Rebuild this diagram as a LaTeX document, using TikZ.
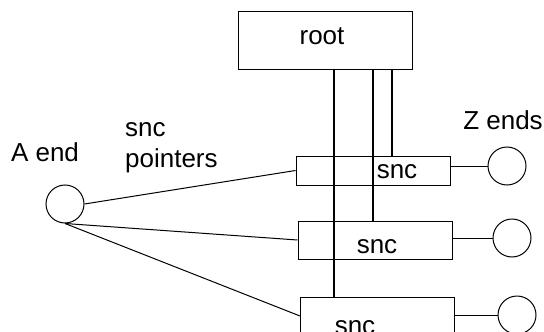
\documentclass[tikz,border=0pt]{standalone}
\usepackage{fontspec}
\setmainfont{Liberation Sans}
\tikzset{
  sncbox/.style={draw,inner sep=0pt,minimum width=77pt},
  endnode/.style={draw,circle,inner sep=0pt,minimum size=19pt},
  ptr/.style={line width=1.1pt},
}

\begin{document}
\begin{tikzpicture}[x=0.5pt,y=-0.5pt,font=\fontsize{13}{15.5}\selectfont,line width=0.5pt]
\useasboundingbox (0,0) rectangle (544,331);
\clip (0,0) rectangle (544,331);
% boxes
\node[draw,inner sep=0pt,minimum width=87pt,minimum height=29pt] (root) at (325,41) {};
\node at (322,36) {root};
\node[sncbox,minimum height=14.5pt] (s1) at (373,170.5) {};
\node[sncbox,minimum height=19pt] (s2) at (375,240) {};
\node[sncbox,minimum height=19pt] (s3) at (377.5,316) {};
\node (t1) at (397,172) {snc};
\node (t2) at (377,247) {snc};
\node (t3) at (355,328) {snc};
% ends
\node[endnode] (a) at (65,204) {};
\node (alabel) at (45,152) {A end};
\node[anchor=west,align=left] (plabel) at (118,148) {snc\\pointers};
\node[endnode] (z1) at (507,166) {};
\node[endnode] (z2) at (512,238) {};
\node[endnode] (z3) at (517,315) {};
\node (zlabel) at (503,120) {Z ends};
% connectors
\draw (a.east) -- (s1.west);
\draw (a.south) -- (s2.west);
\draw (a.south) -- (s3.west);
\foreach \i in {1,2,3} {\draw (z\i.west -| s\i.east) -- (z\i.west);}
\draw[ptr] (334,0 |- root.south) -- (334,0 |- s3.north);
\draw[ptr] (373,0 |- root.south) -- (373,0 |- s2.north);
\draw[ptr] (392,0 |- root.south) -- (392,0 |- s1.north);
\end{tikzpicture}
\end{document}
